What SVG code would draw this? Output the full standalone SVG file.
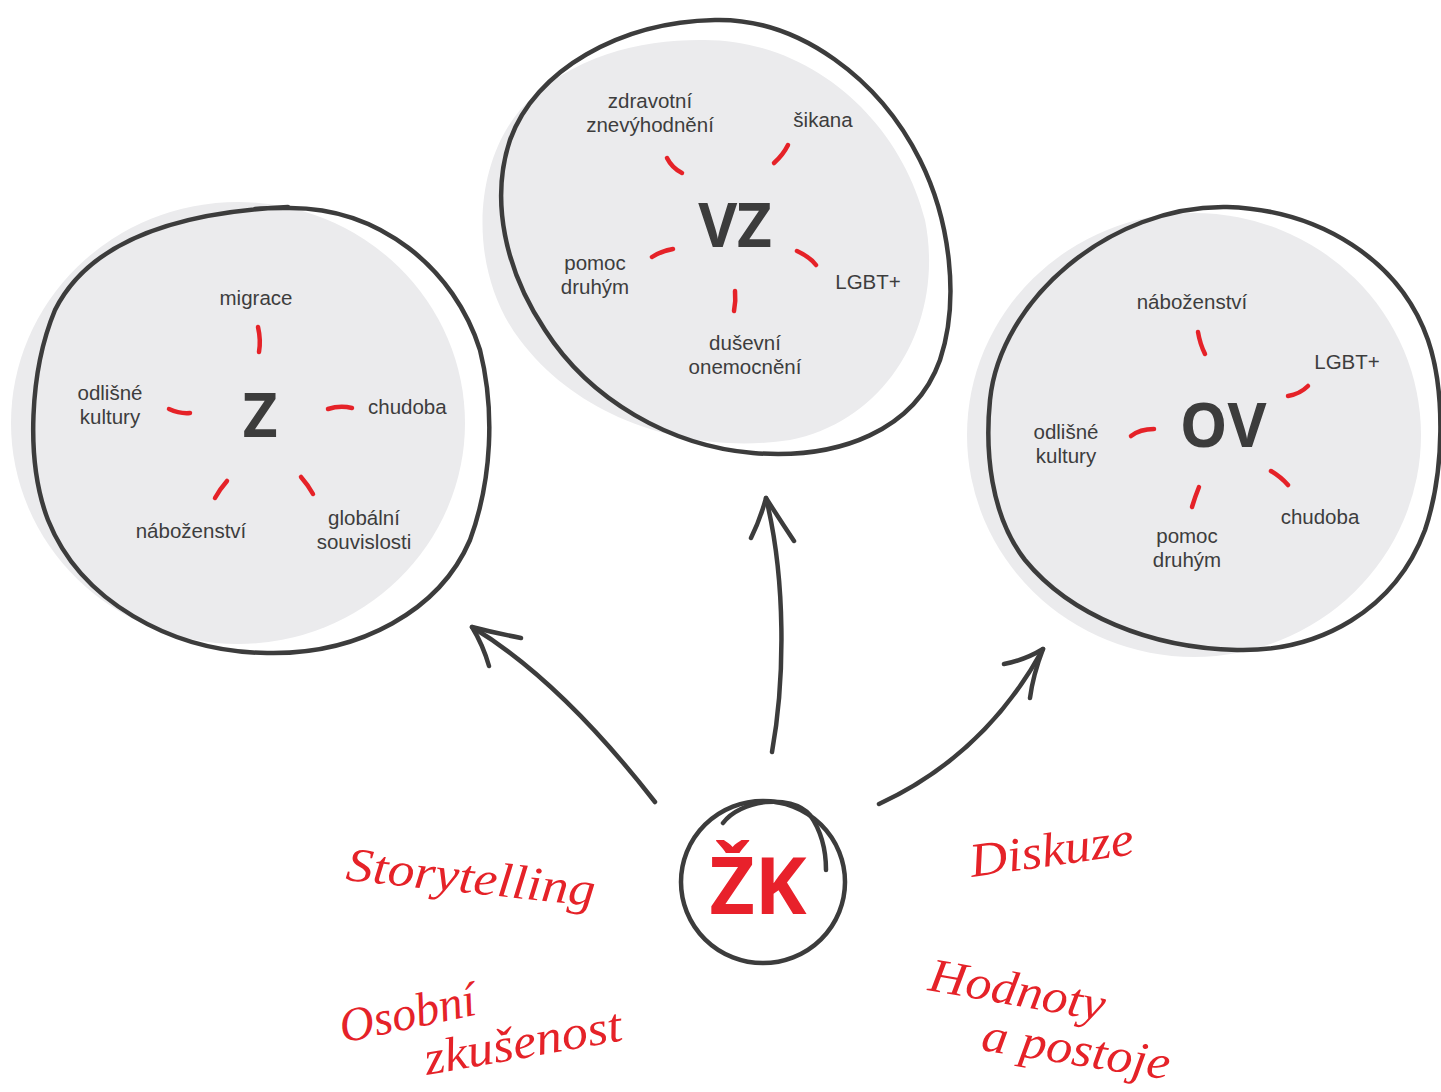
<svg xmlns="http://www.w3.org/2000/svg" width="1441" height="1092" viewBox="0 0 1441 1092">
<defs>
<style>
.blob{fill:#ebebed;stroke:none}
.outline{fill:none;stroke:#3c3c3c;stroke-width:4.5;stroke-linecap:round;stroke-linejoin:round}
.ray{fill:none;stroke:#e52228;stroke-width:4.5;stroke-linecap:round}
.lbl{font-family:"Liberation Sans","Roboto",sans-serif;font-size:20.5px;fill:#3d3d3d;text-anchor:middle}
.big{font-family:"Open Sans","Noto Sans",sans-serif;font-size:60px;font-weight:700;fill:#3c3c3c;text-anchor:middle}
.arrow{fill:none;stroke:#3c3c3c;stroke-width:4.5;stroke-linecap:round;stroke-linejoin:round}
.hand{font-family:"Liberation Serif","DejaVu Serif",serif;font-style:italic;font-size:48px;fill:#e52228}
</style>
</defs>
<rect width="1441" height="1092" fill="#ffffff"/>

<g id="node-z">
<ellipse class="blob" cx="238" cy="423" rx="227" ry="221"/>
<path class="outline" d="M255,209 C265,208 275,208 283,208 C380,205 455,270 480,350 C495,410 492,480 470,540 C440,610 360,655 267,653 C170,652 80,600 48,520 C25,460 30,370 55,310 C90,240 180,212 288,207"/>
<text class="big" x="260" y="437">Z</text>
<path class="ray" d="M258,327 Q261,340 259,352"/>
<path class="ray" d="M169,409 Q180,414 190,413"/>
<path class="ray" d="M328,409 Q340,405 352,408"/>
<path class="ray" d="M227,481 Q220,489 215,498"/>
<path class="ray" d="M301,477 Q308,485 313,494"/>
<text class="lbl" x="256" y="305">migrace</text>
<text class="lbl" x="110" y="400">odlišné<tspan x="110" dy="24">kultury</tspan></text>
<text class="lbl" x="368" y="414" style="text-anchor:start">chudoba</text>
<text class="lbl" x="191" y="538">náboženství</text>
<text class="lbl" x="364" y="525">globální<tspan x="364" dy="24">souvislosti</tspan></text>
</g>

<g id="node-vz">
<path class="blob" d="M700,40 C810,38 900,120 925,220 C945,320 890,420 790,440 C690,455 580,420 520,340 C470,275 470,170 520,110 C570,55 640,40 700,40 Z"/>
<path class="outline" d="M715,20 C800,18 880,80 920,160 C950,220 960,300 940,360 C915,430 840,460 753,453 C670,446 590,400 545,330 C505,270 490,200 510,140 C535,70 620,22 715,20 Z"/>
<text class="big" x="735" y="247">VZ</text>
<path class="ray" d="M667,158 Q672,168 682,173"/>
<path class="ray" d="M788,145 Q783,155 774,163"/>
<path class="ray" d="M673,249 Q661,251 652,257"/>
<path class="ray" d="M797,251 Q810,257 816,265"/>
<path class="ray" d="M735,291 Q736,301 734,311"/>
<text class="lbl" x="650" y="108">zdravotní<tspan x="650" dy="24">znevýhodnění</tspan></text>
<text class="lbl" x="823" y="127">šikana</text>
<text class="lbl" x="595" y="270">pomoc<tspan x="595" dy="24">druhým</tspan></text>
<text class="lbl" x="868" y="289">LGBT+</text>
<text class="lbl" x="745" y="350">duševní<tspan x="745" dy="24">onemocnění</tspan></text>
</g>

<g id="node-ov">
<ellipse class="blob" cx="1194" cy="435" rx="227" ry="222"/>
<path class="outline" d="M1227,207 C1320,210 1400,260 1428,340 C1445,390 1445,470 1425,530 C1395,610 1320,652 1237,650 C1150,648 1070,615 1025,560 C990,515 985,450 990,400 C1000,300 1110,205 1227,207 Z"/>
<text class="big" x="1223" y="447">OV</text>
<path class="ray" d="M1198,332 Q1200,344 1205,354"/>
<path class="ray" d="M1308,386 Q1300,394 1288,396"/>
<path class="ray" d="M1154,429 Q1140,429 1131,436"/>
<path class="ray" d="M1271,471 Q1281,477 1288,485"/>
<path class="ray" d="M1199,487 Q1195,497 1192,507"/>
<text class="lbl" x="1192" y="309">náboženství</text>
<text class="lbl" x="1347" y="369">LGBT+</text>
<text class="lbl" x="1066" y="439">odlišné<tspan x="1066" dy="24">kultury</tspan></text>
<text class="lbl" x="1320" y="524">chudoba</text>
<text class="lbl" x="1187" y="543">pomoc<tspan x="1187" dy="24">druhým</tspan></text>
</g>

<g id="node-zk">
<ellipse class="outline" cx="763" cy="882" rx="82" ry="81"/>
<path class="outline" d="M723,823 C740,800 790,793 810,815 C822,832 826,850 826,870"/>
<text x="758" y="914" style="font-family:'Open Sans','Noto Sans',sans-serif;font-size:78px;font-weight:700;fill:#e8212b;text-anchor:middle">ŽK</text>
</g>

<g id="connectors">
<path class="arrow" d="M655,802 Q560,680 472,627"/>
<path class="arrow" d="M521,638 Q495,633 472,627 Q483,645 489,666"/>
<path class="arrow" d="M772,752 C785,680 786,580 766,498"/>
<path class="arrow" d="M751,538 Q760,520 766,498 Q780,520 794,541"/>
<path class="arrow" d="M879,804 Q985,755 1043,649"/>
<path class="arrow" d="M1004,664 Q1025,660 1043,649 Q1033,675 1030,698"/>
</g>

<g id="labels-handwritten">
<text class="hand" x="345" y="880" transform="rotate(6 345 880)" textLength="250" lengthAdjust="spacingAndGlyphs">Storytelling</text>
<text class="hand" x="343" y="1043" transform="rotate(-12 343 1043)" textLength="138" lengthAdjust="spacingAndGlyphs">Osobní</text>
<text class="hand" x="427" y="1075" transform="rotate(-10 427 1075)" textLength="200" lengthAdjust="spacingAndGlyphs">zkušenost</text>
<text class="hand" x="972" y="877" transform="rotate(-8 972 877)" textLength="165" lengthAdjust="spacingAndGlyphs">Diskuze</text>
<text class="hand" x="927" y="990" transform="rotate(10 927 990)" textLength="178" lengthAdjust="spacingAndGlyphs">Hodnoty</text>
<text class="hand" x="980" y="1050" transform="rotate(9 980 1050)" textLength="190" lengthAdjust="spacingAndGlyphs">a postoje</text>
</g>
</svg>
